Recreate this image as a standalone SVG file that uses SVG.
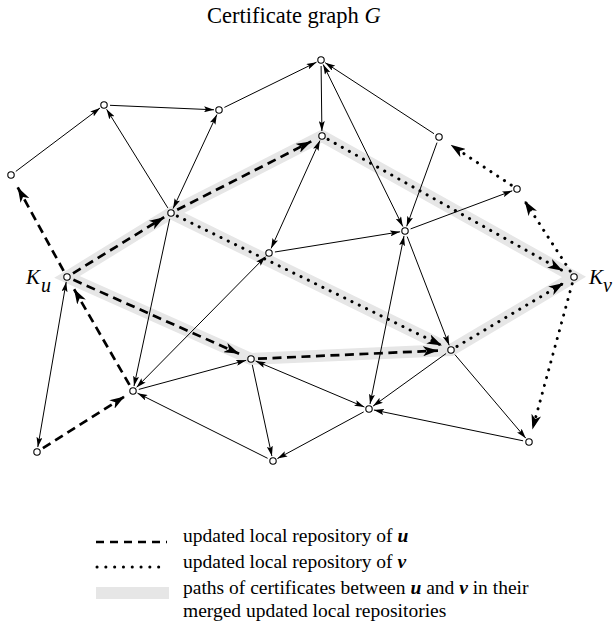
<svg xmlns="http://www.w3.org/2000/svg" width="614" height="627" viewBox="0 0 614 627">
<style>
.t{font-family:"Liberation Serif","Times New Roman",serif;fill:#000}
.thin{stroke:#000;stroke-width:1;fill:none;marker-end:url(#ah)}
.bi{marker-start:url(#ahs)}
.dash{stroke:#000;stroke-width:2.7;fill:none;stroke-dasharray:9 5.5;marker-end:url(#AH)}
.dot{stroke:#000;stroke-width:3;fill:none;stroke-dasharray:0.1 8;stroke-linecap:round;marker-end:url(#AH)}
.band{stroke:#e6e6e6;stroke-width:12;fill:none;stroke-linejoin:miter}
.node{fill:#fff;stroke:#000;stroke-width:1.1}
</style>
<defs>
<marker id="ah" markerUnits="userSpaceOnUse" viewBox="0 0 10 6" markerWidth="10" markerHeight="6" refX="10" refY="3" orient="auto"><path d="M0,0 L10,3 L0,6 L2,3 z" fill="#000"/></marker>
<marker id="ahs" markerUnits="userSpaceOnUse" viewBox="0 0 10 6" markerWidth="10" markerHeight="6" refX="10" refY="3" orient="auto-start-reverse"><path d="M0,0 L10,3 L0,6 L2,3 z" fill="#000"/></marker>
<marker id="AH" markerUnits="userSpaceOnUse" viewBox="0 0 15 10" markerWidth="15" markerHeight="10" refX="15" refY="5" orient="auto"><path d="M0,0 L15,5 L0,10 L4,5 z" fill="#000"/></marker>
</defs>

<text class="t" x="207" y="23" font-size="22.5">Certificate graph <tspan font-style="italic">G</tspan></text>

<g id="bands">
<path class="band" d="M67,277 L171,213 L322,136 L574,277 L451,350 L251,359 Z"/>
<path class="band" d="M171,213 L451,350"/>
</g>

<g id="connectors">
<line class="thin" x1="15.8" y1="171.4" x2="100" y2="108"/>
<line class="thin" x1="110" y1="105.3" x2="214" y2="109.8"/>
<line class="thin" x1="224.4" y1="107.4" x2="316.5" y2="62.2"/>
<line class="thin" x1="167.8" y1="207.9" x2="106.6" y2="109.3"/>
<line class="thin bi" x1="173.1" y1="208.5" x2="216.9" y2="114.5"/>
<line class="thin" x1="321.1" y1="66" x2="321.9" y2="131"/>
<line class="thin" x1="434" y1="133.7" x2="325.2" y2="62.7"/>
<line class="thin bi" x1="323.2" y1="64.5" x2="402.8" y2="226.5"/>
<line class="thin" x1="437" y1="142.6" x2="406.7" y2="226.3"/>
<line class="thin" x1="410.6" y1="228.9" x2="512.3" y2="190.8"/>
<line class="thin" x1="274.9" y1="252" x2="400.1" y2="231.8"/>
<line class="thin bi" x1="319.9" y1="140.6" x2="271.1" y2="248.4"/>
<line class="thin" x1="169.7" y1="218.9" x2="134" y2="386.1"/>
<line class="thin bi" x1="265.5" y1="256.6" x2="136.5" y2="387.4"/>
<line class="thin" x1="138.8" y1="389.4" x2="246.2" y2="360.3"/>
<line class="thin" x1="267.6" y1="458.3" x2="137.5" y2="393.2"/>
<line class="thin" x1="252.3" y1="364.9" x2="271.9" y2="456.1"/>
<line class="thin bi" x1="255.6" y1="361" x2="364.4" y2="407"/>
<line class="thin" x1="363.7" y1="411.9" x2="277.4" y2="458.6"/>
<line class="thin bi" x1="404" y1="235.9" x2="370" y2="404.1"/>
<line class="thin" x1="407.2" y1="236.6" x2="449.2" y2="345.3"/>
<line class="thin" x1="446.1" y1="353.5" x2="373.1" y2="406.1"/>
<line class="thin" x1="454.9" y1="354.6" x2="525.8" y2="438.2"/>
<line class="thin" x1="523.1" y1="440.8" x2="373.9" y2="410"/>
<line class="thin bi" x1="66.2" y1="281.9" x2="37.8" y2="447.1"/>

<line class="dash" x1="63.6" y1="270.9" x2="17.7" y2="187.3"/>
<line class="dash" x1="73" y1="273.3" x2="164.2" y2="217.2"/>
<line class="dash" x1="177.2" y1="209.8" x2="311.3" y2="141.4"/>
<line class="dash" x1="73.4" y1="279.8" x2="239.1" y2="353.7"/>
<line class="dash" x1="258" y1="358.7" x2="438" y2="350.6"/>
<line class="dash" x1="129.5" y1="384.9" x2="74" y2="289.1"/>
<line class="dash" x1="42.9" y1="448.2" x2="124.6" y2="396.4"/>

<line class="dot" x1="328.1" y1="139.4" x2="562.7" y2="270.7"/>
<line class="dot" x1="177.3" y1="216.1" x2="442" y2="345.6"/>
<line class="dot" x1="457" y1="346.4" x2="563.7" y2="283.1"/>
<line class="dot" x1="570.2" y1="271.1" x2="524.6" y2="200.8"/>
<line class="dot" x1="511.2" y1="185.1" x2="450.6" y2="144.8"/>
<line class="dot" x1="572.2" y1="283.8" x2="532.4" y2="429.5"/>
</g>

<g id="n1"><circle class="node" cx="11" cy="175" r="3.2"/></g>
<g id="n2"><circle class="node" cx="104" cy="105" r="3.2"/></g>
<g id="n3"><circle class="node" cx="219" cy="110" r="3.2"/></g>
<g id="nT"><circle class="node" cx="321" cy="60" r="3.2"/></g>
<g id="nA"><circle class="node" cx="171" cy="213" r="3.2"/></g>
<g id="nC"><circle class="node" cx="322" cy="136" r="3.2"/></g>
<g id="nD"><circle class="node" cx="439" cy="137" r="3.2"/></g>
<g id="nE"><circle class="node" cx="517" cy="189" r="3.2"/></g>
<g id="nB"><circle class="node" cx="269" cy="253" r="3.2"/></g>
<g id="nF"><circle class="node" cx="405" cy="231" r="3.2"/></g>
<g id="Ku"><circle class="node" cx="67" cy="277" r="3.2"/>
<text class="t" x="26" y="284" font-size="21" font-style="italic">K</text><text class="t" x="41" y="292" font-size="20" font-style="italic">u</text></g>
<g id="Kv"><circle class="node" cx="574" cy="277" r="3.2"/>
<text class="t" x="589" y="284" font-size="21" font-style="italic">K</text><text class="t" x="603" y="292" font-size="20" font-style="italic">v</text></g>
<g id="nG"><circle class="node" cx="133" cy="391" r="3.2"/></g>
<g id="nH"><circle class="node" cx="251" cy="359" r="3.2"/></g>
<g id="nK"><circle class="node" cx="451" cy="350" r="3.2"/></g>
<g id="nL"><circle class="node" cx="369" cy="409" r="3.2"/></g>
<g id="nI"><circle class="node" cx="37" cy="452" r="3.2"/></g>
<g id="nJ"><circle class="node" cx="273" cy="461" r="3.2"/></g>
<g id="nM"><circle class="node" cx="529" cy="442" r="3.2"/></g>

<g id="legend">
<line x1="96" y1="542" x2="167" y2="542" stroke="#000" stroke-width="2.7" stroke-dasharray="8 6"/>
<line x1="97" y1="567" x2="167" y2="567" stroke="#000" stroke-width="3" stroke-dasharray="0.1 8.7" stroke-linecap="round"/>
<rect x="96" y="587" width="73" height="12" fill="#e6e6e6"/>
<text class="t" x="183" y="542" font-size="19.5">updated local repository of <tspan font-weight="bold" font-style="italic">u</tspan></text>
<text class="t" x="183" y="568" font-size="19.5">updated local repository of <tspan font-weight="bold" font-style="italic">v</tspan></text>
<text class="t" x="183" y="594" font-size="19.5">paths of certificates between <tspan font-weight="bold" font-style="italic">u</tspan> and <tspan font-weight="bold" font-style="italic">v</tspan> in their</text>
<text class="t" x="183" y="617" font-size="19.5">merged updated local repositories</text>
</g>
</svg>
